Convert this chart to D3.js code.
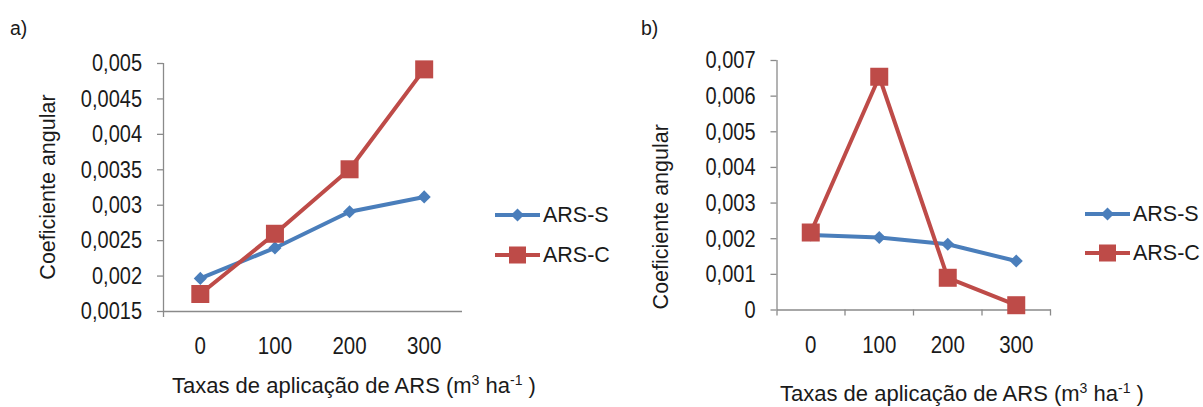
<!DOCTYPE html>
<html><head><meta charset="utf-8">
<script src="https://cdn.jsdelivr.net/npm/d3@7"></script>
<style>body{margin:0;background:#fff;} text{font-family:"Liberation Sans",Arial,sans-serif;fill:#1a1a1a;}</style>
</head><body>
<svg id="c" width="1203" height="407"></svg>
<script>
const categories = ["0","100","200","300"];
const seriesNames = ["ARS-S","ARS-C"];
const aS = [0.00196, 0.00239, 0.00290, 0.00311];
const aC = [0.00174, 0.00259, 0.00350, 0.00491];
const bS = [0.00209, 0.00202, 0.00183, 0.00136];
const bC = [0.00216, 0.00653, 0.00089, 0.00012];
const aTicks = [0.0015,0.002,0.0025,0.003,0.0035,0.004,0.0045,0.005];
const bTicks = [0,0.001,0.002,0.003,0.004,0.005,0.006,0.007];
const yTitle = "Coeficiente angular";
const colors = ["#4a7ebb","#be4b48"];

const svg = d3.select("#c");
const fmt = d => String(+d.toFixed(5)).replace(".", ",");
const SY = 1.15;

function panel(cfg){
  const g = svg.append("g");
  const x = d3.scaleBand().domain(categories).range([cfg.x0, cfg.x1]);
  const y = d3.scaleLinear().domain([cfg.ticks[0], cfg.ticks[cfg.ticks.length-1]]).range([cfg.yb, cfg.yt]);
  // y axis
  const ya = g.append("g").attr("transform",`translate(${cfg.x0},0)`)
    .call(d3.axisLeft(y).tickValues(cfg.ticks).tickFormat(fmt).tickSize(6).tickSizeOuter(0).tickPadding(15));
  ya.select(".domain").attr("stroke","#8a8a8a").attr("stroke-width",1.3)
    .attr("d",`M0.5,${cfg.yt}V${cfg.yb+6}`);
  ya.selectAll(".tick line").attr("stroke","#8a8a8a").attr("stroke-width",1.3);
  ya.selectAll(".tick text").attr("font-size",20).attr("fill","#1a1a1a")
    .attr("transform",`scale(1,${SY})`).attr("dy","0.34em")
    .style("font-family","'Liberation Sans',Arial,sans-serif");
  // x axis
  const xa = g.append("g").attr("transform",`translate(0,${cfg.yb})`)
    .call(d3.axisBottom(x).tickSize(0).tickPadding(23));
  xa.select(".domain").attr("stroke","#8a8a8a").attr("stroke-width",1.3);
  xa.selectAll(".tick text").attr("font-size",20.5).attr("fill","#1a1a1a")
    .attr("transform",`scale(1,${SY})`)
    .style("font-family","'Liberation Sans',Arial,sans-serif");
  if(cfg.xticks){
    const edges = categories.map(c=>x(c)+x.bandwidth());
    g.selectAll(".xt").data(edges).enter().append("line")
      .attr("x1",d=>d).attr("x2",d=>d).attr("y1",cfg.yb).attr("y2",cfg.yb+6)
      .attr("stroke","#8a8a8a").attr("stroke-width",1.3);
  }
  // lines
  const cx = c => x(c)+x.bandwidth()/2;
  [cfg.s, cfg.c].forEach((vals,i)=>{
    const line = d3.line().x((d,j)=>cx(categories[j])).y(d=>y(d));
    g.append("path").datum(vals).attr("d",line).attr("fill","none")
      .attr("stroke",colors[i]).attr("stroke-width",4).attr("stroke-linejoin","round");
  });
  g.selectAll(".dm").data(cfg.s).enter().append("path")
    .attr("d",d3.symbol(d3.symbolDiamond2, 110)())
    .attr("transform",(d,j)=>`translate(${cx(categories[j])},${y(d)})`)
    .attr("fill",colors[0]);
  g.selectAll(".sq").data(cfg.c).enter().append("rect")
    .attr("x",(d,j)=>cx(categories[j])-9).attr("y",d=>y(d)-9)
    .attr("width",18).attr("height",18).attr("fill",colors[1]);
  // titles
  g.append("text").attr("transform",`translate(${cfg.ytx},${(cfg.yt+cfg.yb)/2+cfg.ytdy}) rotate(-90)`)
    .attr("text-anchor","middle").attr("dominant-baseline","central").attr("font-size",21.5).text(yTitle);
  const xt = g.append("text").attr("x",cfg.xtx).attr("y",cfg.xty).attr("font-size",22);
  xt.append("tspan").text("Taxas de aplicação de ARS (m");
  xt.append("tspan").attr("font-size",14).attr("dy",-8).text("3");
  xt.append("tspan").attr("dy",8).text(" ha");
  xt.append("tspan").attr("font-size",14).attr("dy",-8).text("-1");
  xt.append("tspan").attr("dy",8).text(" )");
  g.append("text").attr("x",cfg.lx).attr("y",28).attr("dominant-baseline","central").attr("font-size",19.5).text(cfg.label);
  // legend
  seriesNames.forEach((n,i)=>{
    const ly = cfg.legY[i];
    g.append("line").attr("x1",cfg.legX).attr("x2",cfg.legX+45).attr("y1",ly).attr("y2",ly)
      .attr("stroke",colors[i]).attr("stroke-width",4);
    if(i===0) g.append("path").attr("d",d3.symbol(d3.symbolDiamond2,110)()).attr("transform",`translate(${cfg.legX+22.5},${ly})`).attr("fill",colors[0]);
    else g.append("rect").attr("x",cfg.legX+22.5-8.5).attr("y",ly-8.5).attr("width",17).attr("height",17).attr("fill",colors[1]);
    g.append("text").attr("x",cfg.legX+48).attr("y",ly).attr("dominant-baseline","central").attr("font-size",21.5).text(n);
  });
}

panel({x0:163, x1:461.5, yt:63, yb:311, ticks:aTicks, s:aS, c:aC, xticks:false,
  ytx:48, ytdy:0, xtx:172, xty:393, lx:10, label:"a)", legX:495, legY:[215,255]});
panel({x0:776.5, x1:1050.5, yt:60, yb:309.5, ticks:bTicks, s:bS, c:bC, xticks:true,
  ytx:661, ytdy:32, xtx:780, xty:401, lx:641, label:"b)", legX:1085, legY:[214,253]});
</script>
</body></html>
